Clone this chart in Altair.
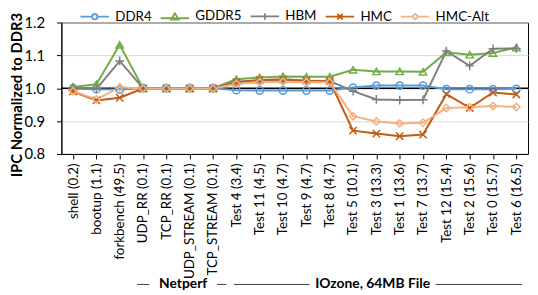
import json
import altair as alt
import pandas as pd

# ---------------- data ----------------
categories = [
    "shell (0.2)", "bootup (1.1)", "forkbench (49.5)", "UDP_RR (0.1)", "TCP_RR (0.1)",
    "UDP_STREAM (0.1)", "TCP_STREAM (0.1)", "Test 4 (3.4)", "Test 11 (4.5)", "Test 10 (4.7)",
    "Test 9 (4.7)", "Test 8 (4.7)", "Test 5 (10.1)", "Test 3 (13.3)", "Test 1 (13.6)",
    "Test 7 (13.7)", "Test 12 (15.4)", "Test 2 (15.6)", "Test 0 (15.7)", "Test 6 (16.5)",
]
series_names = ["DDR4", "GDDR5", "HBM", "HMC", "HMC-Alt"]
ddr4 = [1.000, 0.997, 0.996, 1.000, 1.000, 1.000, 1.000, 0.994, 0.993, 0.993,
        0.993, 0.993, 1.002, 1.008, 1.008, 1.008, 0.997, 0.997, 0.997, 0.998]
gddr5 = [1.004, 1.012, 1.132, 1.000, 1.000, 1.000, 1.000, 1.027, 1.033, 1.036,
         1.035, 1.035, 1.056, 1.051, 1.051, 1.050, 1.109, 1.102, 1.107, 1.124]
hbm = [1.000, 0.998, 1.083, 1.000, 1.000, 1.000, 1.000, 1.020, 1.024, 1.025,
       1.023, 1.022, 0.991, 0.966, 0.964, 0.965, 1.113, 1.068, 1.120, 1.121]
hmc = [0.990, 0.963, 0.971, 0.999, 0.999, 0.999, 0.999, 1.018, 1.025, 1.027,
       1.023, 1.022, 0.871, 0.862, 0.854, 0.859, 0.982, 0.940, 0.987, 0.981]
hmc_alt = [0.991, 0.966, 1.003, 0.999, 0.999, 0.999, 0.999, 1.013, 1.018, 1.020,
           1.018, 1.018, 0.915, 0.899, 0.893, 0.895, 0.940, 0.942, 0.946, 0.943]
series_values = [ddr4, gddr5, hbm, hmc, hmc_alt]
reference_level = [1.0]

group_names = ["Netperf", "IOzone, 64MB File"]
group_start = [2.75, 6.9]
group_end = [6.57, 19.24]
group_center = [4.72, 12.84]
group_gap = [1.45, 2.7]

# ---------------- styles ----------------
colors = ["#5B9BD5", "#70AD47", "#7F7F7F", "#C55A11", "#F4B183"]
marker_shapes = [
    "circle",
    "triangle-up",
    "M-1.2,0H1.2M0,-1.2V1.2",
    "M-1,-1L1,1M-1,1L1,-1",
    "diamond",
]
legend_paths = [
    "M-4.8,0H-0.9M0.9,0H4.8M-0.9,0A0.9,0.9 0 1,0 0.9,0A0.9,0.9 0 1,0 -0.9,0",
    "M-4.8,0.6H4.8M0,-1.1L1.3,1.1H-1.3Z",
    "M-4.8,0H4.8M0,-1.1V1.1",
    "M-4.8,0H4.8M-0.9,-0.9L0.9,0.9M-0.9,0.9L0.9,-0.9",
    "M-4.8,0H-1M1,0H4.8M0,-1L1,0L0,1L-1,0Z",
]
FONT = "Lato"

rows = []
for name, vals in zip(series_names, series_values):
    for i, v in enumerate(vals):
        rows.append({"idx": i, "category": categories[i], "series": name, "value": v})
df = pd.DataFrame(rows)

n = len(categories)
label_expr = json.dumps(categories) + "[datum.value]"

x_scale = alt.Scale(domain=[-0.5, n - 0.5], nice=False, zero=False)
x_axis = alt.Axis(values=list(range(n)), labelExpr=label_expr, labelAngle=-90,
                  labelFontSize=13.5, labelFont=FONT, labelPadding=4, tickSize=5,
                  grid=False, title=None, labelOverlap=False)
y_scale = alt.Scale(domain=[0.8, 1.2], nice=False, zero=False)
y_axis = alt.Axis(values=[0.8, 0.9, 1.0, 1.1, 1.2], format=".1f", labelFontSize=15,
                  labelFont=FONT, labelPadding=12, tickSize=5, grid=True,
                  title="IPC Normalized to DDR3", titleFont=FONT, titleFontSize=15,
                  titleFontWeight="bold", titleAngle=270, titleX=-40, titleY=73,
                  titleAlign="center", titleBaseline="alphabetic")

x_enc = alt.X("idx:Q", scale=x_scale, axis=x_axis)
y_enc = alt.Y("value:Q", scale=y_scale, axis=y_axis)
color_scale = alt.Scale(domain=series_names, range=colors)

legend_cfg = alt.Legend(orient="none", legendX=27, legendY=-13, direction="horizontal",
                        title=None, labelFont=FONT, labelFontSize=13.5, labelColor="black",
                        symbolSize=36, symbolStrokeWidth=1.8, labelOffset=14,
                        columnPadding=4, padding=0, symbolOpacity=1)
legend_layer = alt.Chart(df).transform_filter("false").mark_point(
    filled=False, size=36, strokeWidth=2).encode(
    x=x_enc, y=y_enc,
    color=alt.Color("series:N", scale=color_scale, legend=legend_cfg),
    shape=alt.Shape("series:N", scale=alt.Scale(domain=series_names, range=legend_paths),
                    legend=legend_cfg),
)

ref = alt.Chart(pd.DataFrame({"value": reference_level})).mark_rule(
    color="black", strokeWidth=1.5).encode(y=y_enc)

lines = alt.Chart(df).mark_line(strokeWidth=2).encode(
    x=x_enc, y=y_enc,
    color=alt.Color("series:N", scale=color_scale),
    detail="series:N",
)

point_layers = []
for name, shp in zip(series_names, marker_shapes):
    point_layers.append(
        alt.Chart(df).transform_filter(alt.datum.series == name).mark_point(
            shape=shp, filled=False, size=55, strokeWidth=1.5, opacity=1).encode(
            x=x_enc, y=y_enc,
            color=alt.Color("series:N", scale=color_scale))
    )

seg_rows = []
for nm, s, e, c, g in zip(group_names, group_start, group_end, group_center, group_gap):
    seg_rows.append({"idx": s, "idx2": c - g})
    seg_rows.append({"idx": c + g, "idx2": e})
segs = alt.Chart(pd.DataFrame(seg_rows)).mark_rule(color="#404040", strokeWidth=1).encode(
    x=x_enc, x2="idx2:Q", y=alt.value(265))

glabels = alt.Chart(pd.DataFrame({"idx": group_center, "name": group_names})).mark_text(
    font=FONT, fontSize=14, fontWeight="bold", align="center", baseline="middle",
    color="black").encode(x=x_enc, y=alt.value(265), text="name:N")

chart = alt.layer(legend_layer, ref, lines, *point_layers, segs, glabels).properties(
    width=472, height=133,
    autosize=alt.AutoSizeParams(type="none"),
    padding={"left": 54, "top": 13, "right": 2, "bottom": 140},
).configure_view(stroke="black", strokeWidth=1).configure_axis(
    domainColor="black", tickColor="black", labelColor="black", titleColor="black",
    gridColor="#D9D9D9", domainWidth=1,
)

chart.save("out.html", embed_options={"renderer": "svg", "actions": False})
